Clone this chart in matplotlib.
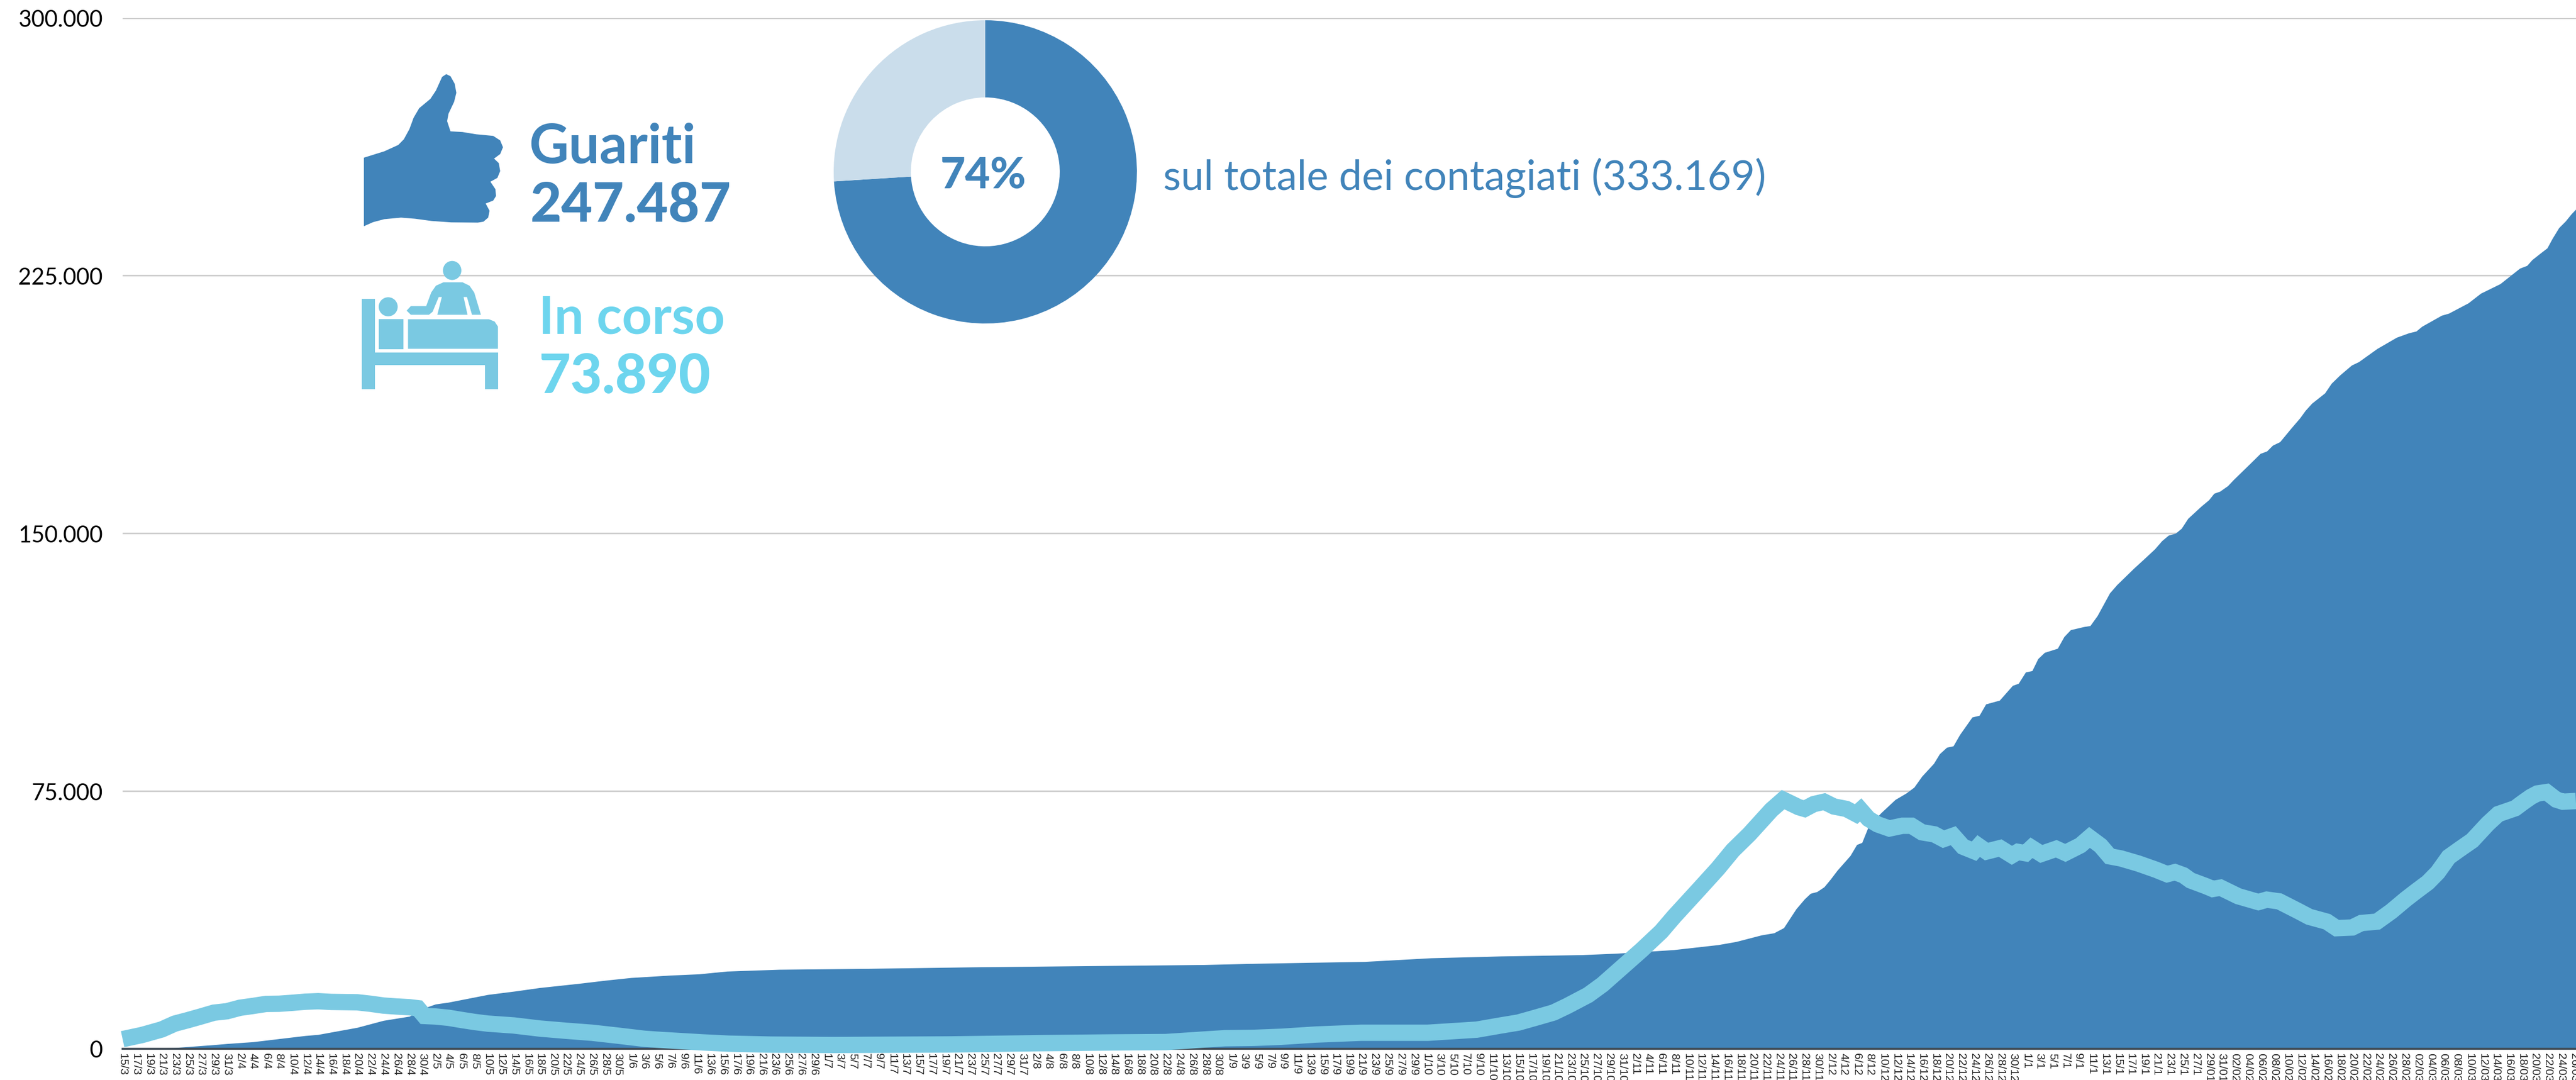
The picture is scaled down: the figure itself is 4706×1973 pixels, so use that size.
import numpy as np
import pandas as pd
import matplotlib
matplotlib.use('Agg')
import matplotlib.pyplot as plt
from matplotlib.patches import Polygon, Ellipse

W, H = 4706, 1974
BLUE = '#4184BA'
LIGHT = '#7AC9E2'
CYAN = '#6DD5EE'

# days since 15/3/2020
guariti_days = [0, 4, 8, 14, 16, 20, 24, 28, 30, 36, 40, 44, 46, 48, 50, 56, 60, 64, 70, 74, 78, 84,
                88.4, 92.7, 100.7, 114, 130.2, 146.2, 165.9, 172.9, 182, 190.5, 200.7, 211.4, 223.8, 229.1,
                234.5, 237.9, 244.7, 247.5, 251.4, 253.3, 254.8, 256.7, 258, 258.9, 259.9, 261, 262, 263,
                265, 266, 266.8, 267.8, 269.7, 271.9, 273.6, 274.8, 276, 277.8, 278.7, 279.8, 280.8, 281.8,
                283.7, 284.8, 285.8, 287.9, 289.9, 290.8, 291.9, 292.9, 293.8, 294.8, 296.8, 297.8, 298.8,
                300.8, 301.8, 302.9, 304.8, 305.9, 308.5, 310, 311.7, 312.8, 313.8, 314.9, 315.8, 316.8,
                318.8, 320, 320.8, 321.7, 322.9, 323.8, 326.4, 327.9, 328.9, 329.8, 330.9, 332.6, 334,
                334.8, 335.8, 337.8, 338.8, 340.1, 341.9, 343, 345.8, 348.8, 350.7, 351.8, 352.7, 355.7,
                356.8, 359.8, 361.7, 364.7, 367.7, 368.8, 369.6, 370.8, 371.9, 372.7, 373.7, 374.7, 375.6, 376.3]
guariti = [0, 100, 320, 1170, 1490, 2020, 2920, 3820, 4140, 6210, 8230, 9450, 11680, 13000, 13535, 15760, 16720, 17780, 19000, 19900, 20700, 21390,
           21760, 22560, 23090, 23350, 23780, 24100, 24470, 24790, 25100, 25370, 26430, 26960, 27340, 27760,
           28390, 28800, 30250, 31180, 33100, 33700, 35200, 40700, 43600, 45200, 45700, 47100, 49400, 51900,
           56200, 59400, 60000, 64700, 68600, 72500, 74400, 76100, 79300, 83000, 85800, 87700, 88100, 91400,
           96500, 97000, 100300, 101400, 105700, 106300, 109600, 110000, 113500, 115300, 116500, 119900, 121900,
           122800, 123100, 126000, 132600, 135000, 139800, 142400, 145400, 147800, 149400, 150000, 151400, 154300,
           157800, 159700, 161600, 162200, 163800, 165600, 170400, 173200, 173900, 175600, 176600, 180500, 183600,
           185700, 187800, 190800, 193600, 196000, 198900, 199900, 203700, 207000, 208300, 208800, 210200, 213400,
           214000, 217000, 219800, 222600, 227100, 227900, 229600, 231400, 233000, 235800, 238900, 240800, 242900, 244300]

in_corso_days = [0, 3, 6, 8, 10, 12, 14, 16, 18, 20, 22, 24, 26, 28, 30, 32, 34, 36, 38, 40, 42, 44, 45.3, 46.3,
                 48, 50, 52, 54, 56, 60, 64, 68, 72, 76, 80, 82, 89, 93, 99.4, 109, 127, 141, 152, 160, 165.9,
                 169.1, 173.4, 177.7, 183, 190, 200.2, 207.7, 211.4, 214.1, 216.8, 219.5, 221.6, 224.8, 227, 230.2,
                 233, 236, 238, 241.8, 244.7, 247, 249.5, 252.9, 254.7, 257.1, 258, 259.4, 261, 262.5, 264.4, 265.9,
                 266.6, 267.8, 269.2, 271, 273, 274.4, 276, 277.9, 279.3, 280.8, 282.3, 284, 284.7, 285.9, 288,
                 289.8, 290.7, 291.9, 292.8, 294.3, 296.6, 298, 300.3, 301.7, 303.4, 304.8, 306.5, 309.2, 311.9,
                 313.6, 314.8, 316.1, 317.2, 319.6, 320.6, 321.8, 324.5, 327.6, 328.9, 330.8, 333.7, 335.4, 338.1,
                 339.6, 342, 343.4, 345.8, 348, 350.2, 351.7, 353.6, 355.1, 356.8, 358.5, 360.4, 362.8, 364.4,
                 367, 368.2, 369.4, 370.4, 371.8, 373.3, 374.3, 376.3]
in_corso = [2810, 4030, 5630, 7330, 8330, 9400, 10510, 10930, 11940, 12470, 13060, 13110, 13380, 13700, 13850, 13640, 13590, 13530, 13110, 12580, 12310, 12100, 11800, 9550,
            9400, 9020, 8390, 7800, 7330, 6790, 5890, 5250, 4670, 3820, 2920, 2650, 1860, 1490, 1220, 1110, 1270, 1640, 1860, 1960, 2700,
            3080, 3180, 3500, 4140, 4670, 4670, 5570, 6790, 7640, 9080, 10560, 12470, 15660, 18700, 24050,
            28750, 34100, 38530, 46400, 52460, 57760, 62400, 69500, 72500, 70300, 69800, 71200, 71900, 70500, 69800, 68300,
            69500, 66900, 65300, 64100, 64900, 64900, 63000, 62400, 61000, 62000, 58800, 57500, 59000, 57400, 58400,
            56300, 57300, 56900, 58500, 56700, 58200, 57000, 59200, 61500, 59100, 56000, 55400, 53900, 52100,
            50800, 51400, 50500, 49000, 47300, 46500, 46900, 44400, 42700, 43400, 42900, 40100, 38400, 37000,
            35100, 35300, 36600, 37000, 40000, 43500, 45700, 48400, 51300, 55800, 58100, 60600, 65500, 68300,
            70000, 71700, 73300, 74300, 74700, 72500, 71900, 72100]

y_ticks = [0, 75000, 150000, 225000, 300000]
y_labels = ['0', '75.000', '150.000', '225.000', '300.000']

tick_dates = pd.date_range('2020-03-15', '2021-03-26', freq='2D')
tick_days = [(d - tick_dates[0]).days for d in tick_dates]
tick_labels = [d.strftime('%d/%m') if d >= pd.Timestamp('2021-01-29') else f'{d.day}/{d.month}' for d in tick_dates]

pie_values = [74, 26]
pie_colors = [BLUE, '#CADDEB']

# outlines of the two icons, in pixels of the zoomed crop
thumb = [(127, 456), (200, 428), (250, 400), (270, 375), (290, 330), (305, 280), (325, 238), (365, 197),
         (385, 160), (407, 100), (422, 88), (437, 97), (452, 130), (458, 170), (450, 210), (430, 262),
         (425, 295), (437, 340), (480, 343), (530, 353), (590, 360), (615, 380), (625, 410), (615, 440),
         (593, 460), (610, 480), (615, 515), (605, 545), (580, 562), (598, 595), (600, 625), (590, 645),
         (563, 658), (577, 690), (572, 720), (555, 738), (535, 742), (440, 741), (370, 735), (310, 725),
         (260, 720), (200, 727), (160, 740), (127, 758)]
nurse = [(412, 1005), (480, 1005), (505, 1020), (522, 1050), (546, 1148), (514, 1148), (496, 1070), (484, 1070),
         (498, 1148), (390, 1148), (406, 1070), (395, 1070), (373, 1135), (360, 1148), (295, 1148), (280, 1130),
         (295, 1110), (350, 1110), (368, 1050), (385, 1020)]
pillow = [(180, 1168), (269, 1168), (269, 1300), (180, 1300)]
blanket = [(285, 1168), (575, 1168), (595, 1178), (607, 1200), (607, 1298), (285, 1298)]
bed = [(120, 1078), (167, 1078), (167, 1315), (607, 1315), (607, 1476), (560, 1476), (560, 1370), (167, 1370),
       (167, 1476), (120, 1476)]


def crop_to_px(points):
    pts = np.array(points, dtype=float)
    pts[:, 0] = 600 + pts[:, 0] / 1.96
    pts[:, 1] = 100 + pts[:, 1] * 0.4146
    return pts


plt.rcParams['font.family'] = ['Lato', 'DejaVu Sans']

fig = plt.figure(figsize=(W / 100, H / 100), dpi=100, facecolor='white')

ax = fig.add_axes([224 / W, (H - 1917) / H, (W - 224) / W, (1917 - 33.5) / H])
ax.set_xlim(0, (W - 224) / 11.91)
ax.set_ylim(0, 300000)
for s in ax.spines.values():
    s.set_visible(False)
ax.set_axisbelow(True)
ax.grid(axis='y', color='#cccccc', lw=2)
ax.fill_between(guariti_days, guariti, 0, color=BLUE, lw=0, zorder=2)
ax.axhline(0, color='#3f4a55', lw=2.6, zorder=3, clip_on=False)
ax.plot(in_corso_days, in_corso, color=LIGHT, lw=21.5, solid_joinstyle='miter', solid_capstyle='butt',
        zorder=4, clip_on=False)

ax.set_yticks(y_ticks)
ax.set_yticklabels(y_labels, fontsize=30, color='black')
ax.tick_params(axis='y', length=0, pad=26)
ax.set_xticks(tick_days)
ax.set_xticklabels(tick_labels, rotation=270, fontsize=15, family='Liberation Sans', color='#222222',
                   ha='center', va='top')
ax.tick_params(axis='x', length=0, pad=5)

pie_ax = fig.add_axes([(1800 - 277) / W, (H - 315 - 277) / H, 554 / W, 554 / H])
pie_ax.pie(pie_values, colors=pie_colors, startangle=90, counterclock=False, radius=1,
           wedgeprops={'width': 0.509, 'linewidth': 0})
pie_ax.set_xlim(-1, 1)
pie_ax.set_ylim(-1, 1)

over = fig.add_axes([0, 0, 1, 1])
over.set_xlim(0, W)
over.set_ylim(H, 0)
over.axis('off')
over.patch.set_alpha(0)

over.add_patch(Polygon(crop_to_px(thumb), closed=True, color=BLUE, lw=0))
for part in [nurse, pillow, blanket, bed]:
    over.add_patch(Polygon(crop_to_px(part), closed=True, color=LIGHT, lw=0))
for cx, cy, rx, ry in [(443, 953, 33, 42), (214, 1113, 34, 42)]:
    c = crop_to_px([(cx, cy)])[0]
    over.add_patch(Ellipse(c, 2 * rx / 1.96, 2 * ry * 0.4146, color=LIGHT, lw=0))

over.text(966, 298, 'Guariti', color=BLUE, fontsize=72, fontweight='bold', va='baseline')
over.text(969, 405, '247.487', color=BLUE, fontsize=71, fontweight='black', va='baseline')
over.text(984, 610, 'In corso', color=CYAN, fontsize=69, fontweight='bold', va='baseline')
over.text(985, 718, '73.890', color=CYAN, fontsize=72, fontweight='black', va='baseline')
over.text(1796, 322, '74%', color=BLUE, fontsize=57, fontweight='black', ha='center', va='center')
over.text(2125, 347, 'sul totale dei contagiati (333.169)', color=BLUE, fontsize=54, va='baseline')

fig.savefig('out.png', dpi=100)
